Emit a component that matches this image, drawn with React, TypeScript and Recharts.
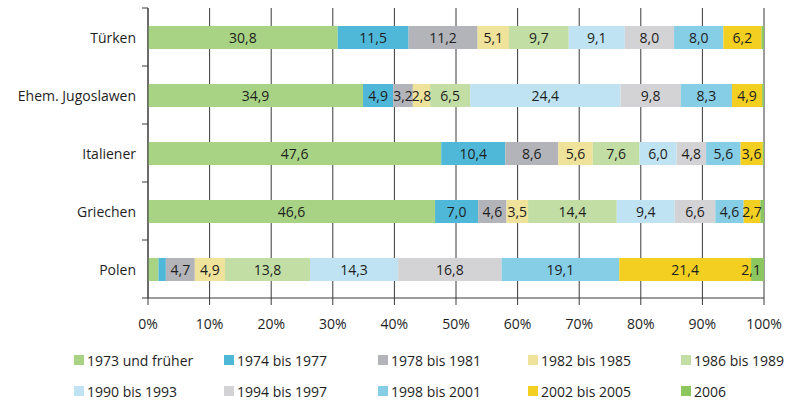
import React from "react";
import { BarChart, Bar, XAxis, YAxis, CartesianGrid, LabelList } from "recharts";

const CATEGORIES = ["Türken", "Ehem. Jugoslawen", "Italiener", "Griechen", "Polen"];

const SERIES = [
  "1973 und früher",
  "1974 bis 1977",
  "1978 bis 1981",
  "1982 bis 1985",
  "1986 bis 1989",
  "1990 bis 1993",
  "1994 bis 1997",
  "1998 bis 2001",
  "2002 bis 2005",
  "2006",
];

const COLORS = [
  "#a8d384",
  "#4fb8d8",
  "#b3b4b9",
  "#efe29a",
  "#c2dea5",
  "#bfe3f2",
  "#d3d3d5",
  "#86cde6",
  "#f3cf22",
  "#8cc65e",
];

// values per period, in category order
const Y1973 = [30.8, 34.9, 47.6, 46.6, 1.7];
const Y1974 = [11.5, 4.9, 10.4, 7.0, 1.2];
const Y1978 = [11.2, 3.2, 8.6, 4.6, 4.7];
const Y1982 = [5.1, 2.8, 5.6, 3.5, 4.9];
const Y1986 = [9.7, 6.5, 7.6, 14.4, 13.8];
const Y1990 = [9.1, 24.4, 6.0, 9.4, 14.3];
const Y1994 = [8.0, 9.8, 4.8, 6.6, 16.8];
const Y1998 = [8.0, 8.3, 5.6, 4.6, 19.1];
const Y2002 = [6.2, 4.9, 3.6, 2.7, 21.4];
const Y2006 = [0.4, 0.3, 0.2, 0.6, 2.1];

const VALUES = [Y1973, Y1974, Y1978, Y1982, Y1986, Y1990, Y1994, Y1998, Y2002, Y2006];
const X_TICKS = [0, 10, 20, 30, 40, 50, 60, 70, 80, 90, 100];

const data = CATEGORIES.map((name, i) => {
  const row: any = { name };
  VALUES.forEach((arr, s) => (row["s" + s] = arr[i]));
  return row;
});

const FONT = "'Open Sans', sans-serif";
const TEXT = "#1e1e1e";
const AXIS = "#3a3a3a";

const PLOT_TOP = 8;
const PLOT_BOTTOM = 298;
const AXIS_X = 148;
const BAND = (PLOT_BOTTOM - PLOT_TOP) / CATEGORIES.length;

function CategoryTick({ y, payload, index }: any) {
  return (
    <g>
      <text x={AXIS_X - 12} y={y} textAnchor="end" dominantBaseline="central" fontSize={14} fill={TEXT} fontFamily={FONT}>
        {payload.value}
      </text>
      <line x1={AXIS_X - 6} x2={AXIS_X} y1={y - BAND / 2} y2={y - BAND / 2} stroke={AXIS} />
      {index === CATEGORIES.length - 1 && (
        <line x1={AXIS_X - 6} x2={AXIS_X} y1={y + BAND / 2} y2={y + BAND / 2} stroke={AXIS} />
      )}
    </g>
  );
}

function SegmentLabel({ x, y, width, height, value }: any) {
  if (value == null || value < 2) return null;
  // very narrow segment: label sits left of its right edge
  const narrow = width < 15;
  return (
    <text
      x={narrow ? x + width - 3 : x + width / 2}
      y={y + height / 2}
      textAnchor={narrow ? "end" : "middle"}
      dominantBaseline="central"
      fontSize={14}
      fill={TEXT}
      fontFamily={FONT}
    >
      {Number(value).toFixed(1).replace(".", ",")}
    </text>
  );
}

const LEGEND_COLS = [74, 224, 378, 528, 681];
const LEGEND_ROWS = [360, 391];

function LegendBlock() {
  return (
    <>
      {SERIES.map((s, i) => (
        <div
          key={s}
          style={{
            position: "absolute",
            left: LEGEND_COLS[i % 5],
            top: LEGEND_ROWS[Math.floor(i / 5)] - 10,
            height: 20,
            display: "flex",
            alignItems: "center",
            fontFamily: FONT,
            fontSize: 14,
            color: TEXT,
            whiteSpace: "nowrap",
          }}
        >
          <span style={{ width: 10, height: 10, background: COLORS[i], marginRight: 3, display: "inline-block" }} />
          {s}
        </div>
      ))}
    </>
  );
}

export default function App() {
  return (
    <div style={{ position: "absolute", left: 0, top: 0, width: 790, height: 401, background: "#fff" }}>
      <BarChart
        width={790}
        height={401}
        data={data}
        layout="vertical"
        barSize={23}
        margin={{ top: PLOT_TOP, right: 26, bottom: 63, left: 0 }}
      >
        <CartesianGrid horizontal={false} stroke={AXIS} strokeWidth={1} />
        <XAxis
          type="number"
          domain={[0, 100]}
          ticks={X_TICKS}
          tickFormatter={(v) => v + "%"}
          height={40}
          tickSize={7}
          tickMargin={14}
          axisLine={{ stroke: AXIS }}
          tickLine={{ stroke: AXIS }}
          tick={{ fontSize: 14, fill: TEXT, fontFamily: FONT }}
          allowDataOverflow
        />
        <YAxis
          type="category"
          dataKey="name"
          width={AXIS_X}
          axisLine={{ stroke: AXIS }}
          tickLine={false}
          tick={<CategoryTick />}
        />
        {SERIES.map((s, i) => (
          <Bar key={s} dataKey={"s" + i} name={s} stackId="a" fill={COLORS[i]} isAnimationActive={false}>
            <LabelList dataKey={"s" + i} content={<SegmentLabel />} />
          </Bar>
        ))}
      </BarChart>
      <LegendBlock />
    </div>
  );
}
